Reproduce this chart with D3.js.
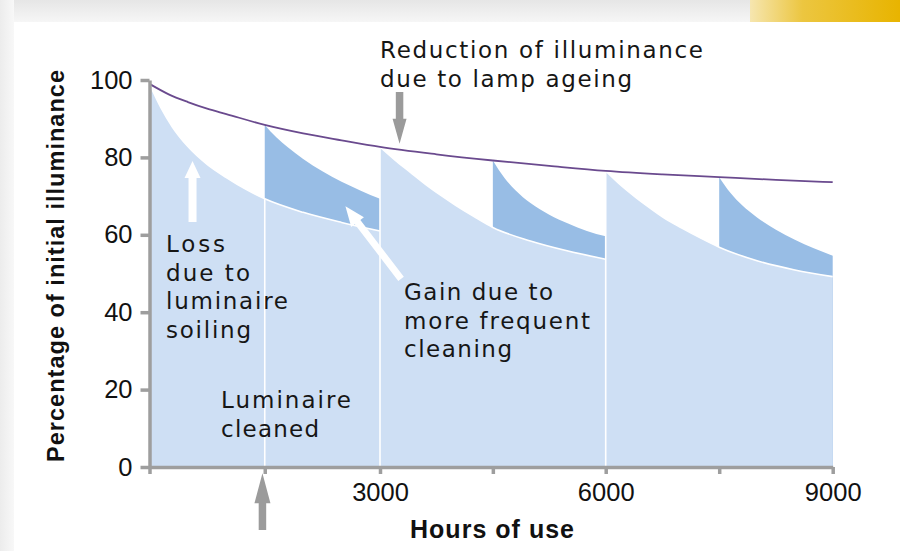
<!DOCTYPE html>
<html>
<head>
<meta charset="utf-8">
<script src="https://cdn.jsdelivr.net/npm/d3@7"></script>
<style>
  body { margin: 0; background: #fff; }
  svg { display: block; font-family: "Liberation Sans", Arial, sans-serif; }
</style>
</head>
<body>
<svg width="900" height="551"></svg>
<script>
// lamp ageing curve (top, purple)
var lampHours  = [0, 250, 500, 750, 1000, 1500, 2000, 2500, 3000, 3750, 4500, 5250, 6000, 6750, 7500, 8250, 9000];
var lampValues = [99, 96.3, 94.3, 92.6, 91.2, 88.4, 86.2, 84.4, 82.7, 80.8, 79.2, 77.8, 76.5, 75.6, 74.9, 74.2, 73.6];

// luminaire cleaned every 3000 h (light blue)
var cycle1Hours  = [0, 150, 300, 500, 750, 1000, 1250, 1500, 2000, 2500, 3000];
var cycle1Values = [99, 92.8, 87.8, 82.8, 78.2, 74.8, 71.8, 69.3, 65.8, 63.2, 61];
var cycle2Hours  = [3000, 3200, 3400, 3600, 3800, 4000, 4250, 4500, 5000, 5500, 6000];
var cycle2Values = [82.7, 79.3, 76.2, 73.1, 70.3, 67.7, 64.7, 61.9, 58.4, 55.8, 53.7];
var cycle3Hours  = [6000, 6200, 6400, 6600, 6800, 7000, 7250, 7500, 8000, 8500, 9000];
var cycle3Values = [76.5, 72.8, 69.6, 66.7, 64.0, 61.8, 59.2, 56.8, 53.3, 50.9, 49.2];

// extra cleaning halfway (darker blue = gain)
var extra1Hours  = [1500, 1650, 1800, 2000, 2250, 2500, 2750, 3000];
var extra1Values = [88.4, 85.2, 82.6, 79.6, 76.4, 73.7, 71.4, 69.3];
var extra2Hours  = [4500, 4650, 4800, 5000, 5250, 5500, 5750, 6000];
var extra2Values = [79.2, 74.8, 71.5, 68.2, 65.2, 62.9, 61.0, 59.6];
var extra3Hours  = [7500, 7650, 7800, 8000, 8250, 8500, 8750, 9000];
var extra3Values = [74.9, 70.8, 67.7, 64.5, 61.3, 58.7, 56.5, 54.6];

var xTicks = [0, 1500, 3000, 4500, 6000, 7500, 9000];
var xTickLabels = ["", "", "3000", "", "6000", "", "9000"];
var yTicks = [0, 20, 40, 60, 80, 100];
var separatorHours = [1500, 3000, 6000];

var cycles = [[cycle1Hours, cycle1Values], [cycle2Hours, cycle2Values], [cycle3Hours, cycle3Values]];
var extras = [[extra1Hours, extra1Values], [extra2Hours, extra2Values], [extra3Hours, extra3Values]];

var svg = d3.select("svg");

// ---- page frame (screenshot border) ----
var defs = svg.append("defs");
var gTop = defs.append("linearGradient").attr("id", "gTop").attr("x1", 0).attr("y1", 0).attr("x2", 0).attr("y2", 1);
gTop.append("stop").attr("offset", "0%").attr("stop-color", "#e6e6e6");
gTop.append("stop").attr("offset", "100%").attr("stop-color", "#f6f6f6");
var gLeft = defs.append("linearGradient").attr("id", "gLeft").attr("x1", 0).attr("y1", 0).attr("x2", 1).attr("y2", 0);
gLeft.append("stop").attr("offset", "0%").attr("stop-color", "#ececec");
gLeft.append("stop").attr("offset", "100%").attr("stop-color", "#f8f8f8");
var gYel = defs.append("linearGradient").attr("id", "gYel").attr("x1", 0).attr("y1", 0).attr("x2", 1).attr("y2", 0);
gYel.append("stop").attr("offset", "0%").attr("stop-color", "#f6e6b0");
gYel.append("stop").attr("offset", "35%").attr("stop-color", "#ecc640");
gYel.append("stop").attr("offset", "100%").attr("stop-color", "#e8b400");

svg.append("rect").attr("width", 900).attr("height", 551).attr("fill", "#fff");
svg.append("rect").attr("width", 900).attr("height", 22).attr("fill", "url(#gTop)");
svg.append("rect").attr("width", 14).attr("height", 551).attr("fill", "url(#gLeft)");
svg.append("rect").attr("x", 750).attr("width", 150).attr("height", 22).attr("fill", "url(#gYel)");
svg.append("rect").attr("x", 14).attr("y", 22).attr("width", 900).attr("height", 560)
    .attr("rx", 8).attr("fill", "#fff");

// ---- scales ----
var x = d3.scaleLinear().domain([0, 3000, 6000, 9000]).range([149.5, 380, 605.7, 832.7]);
var y = d3.scaleLinear().domain([0, 100]).range([467, 80]);

var area = d3.area()
    .x(function(d) { return x(d[0]); })
    .y0(y(0))
    .y1(function(d) { return y(d[1]); })
    .curve(d3.curveMonotoneX);
var line = d3.line()
    .x(function(d) { return x(d[0]); })
    .y(function(d) { return y(d[1]); })
    .curve(d3.curveMonotoneX);

var gPlot = svg.append("g");

// darker gain regions first, the light regions cover their lower part
gPlot.selectAll("path.extra")
    .data(extras)
  .enter().append("path")
    .attr("class", "extra")
    .attr("d", function(d) { return area(d3.zip(d[0], d[1])); })
    .attr("fill", "#98bde5");

gPlot.selectAll("path.cycle")
    .data(cycles)
  .enter().append("path")
    .attr("class", "cycle")
    .attr("d", function(d) { return area(d3.zip(d[0], d[1])); })
    .attr("fill", "#cedff4");

gPlot.selectAll("path.cycleEdge")
    .data(cycles)
  .enter().append("path")
    .attr("class", "cycleEdge")
    .attr("d", function(d) { return line(d3.zip(d[0], d[1])); })
    .attr("fill", "none")
    .attr("stroke", "#fff")
    .attr("stroke-width", 1.6);

function cleanLevel(h) {
  var best = 0;
  cycles.forEach(function(c) {
    var i = c[0].indexOf(h);
    if (i >= 0 && c[1][i] > best) best = c[1][i];
  });
  return best;
}

gPlot.selectAll("line.sep")
    .data(separatorHours)
  .enter().append("line")
    .attr("class", "sep")
    .attr("x1", function(d) { return x(d); })
    .attr("x2", function(d) { return x(d); })
    .attr("y1", y(0))
    .attr("y2", function(d) { return y(cleanLevel(d)); })
    .attr("stroke", "#fff")
    .attr("stroke-width", 1.6);

// lamp ageing line
gPlot.append("path")
    .attr("d", line(d3.zip(lampHours, lampValues)))
    .attr("fill", "none")
    .attr("stroke", "#6a4a8e")
    .attr("stroke-width", 1.8);

// ---- axes ----
var yAxis = d3.axisLeft(y).tickValues(yTicks).tickSize(9).tickSizeOuter(0).tickPadding(8);
var xAxis = d3.axisBottom(x).tickValues(xTicks).tickSize(7).tickSizeOuter(0).tickPadding(9)
    .tickFormat(function(d, i) { return xTickLabels[i]; });

var gy = svg.append("g").attr("transform", "translate(" + x(0) + ",0)").call(yAxis);
var gx = svg.append("g").attr("transform", "translate(0," + y(0) + ")").call(xAxis);

[gx, gy].forEach(function(g) {
  g.select(".domain").attr("stroke", "#9e9e9e").attr("stroke-width", 3.5);
  g.selectAll(".tick line").attr("stroke", "#9e9e9e").attr("stroke-width", 3.5);
  g.selectAll(".tick text")
    .attr("font-family", "'Liberation Sans', Arial, sans-serif")
    .attr("font-size", 25.5)
    .attr("fill", "#111");
});

svg.append("text")
    .attr("x", 492).attr("y", 538)
    .attr("text-anchor", "middle")
    .attr("font-size", 25).attr("font-weight", "bold")
    .attr("textLength", 164).attr("lengthAdjust", "spacing")
    .attr("fill", "#111")
    .text("Hours of use");

svg.append("text")
    .attr("transform", "translate(64,266) rotate(-90)")
    .attr("text-anchor", "middle")
    .attr("font-size", 23.5).attr("font-weight", "bold")
    .attr("textLength", 392).attr("lengthAdjust", "spacing")
    .attr("fill", "#111")
    .text("Percentage of initial illuminance");

// ---- arrows ----
function arrowPoints(x1, y1, x2, y2, w, hl, hw) {
  var dx = x2 - x1, dy = y2 - y1, L = Math.hypot(dx, dy);
  var ux = dx / L, uy = dy / L, px = -uy, py = ux;
  var bx = x2 - ux * hl, by = y2 - uy * hl;
  return [
    [x1 + px * w / 2, y1 + py * w / 2], [bx + px * w / 2, by + py * w / 2],
    [bx + px * hw / 2, by + py * hw / 2], [x2, y2],
    [bx - px * hw / 2, by - py * hw / 2], [bx - px * w / 2, by - py * w / 2],
    [x1 - px * w / 2, y1 - py * w / 2]
  ];
}
function arrow(h1, v1, h2, v2, w, hl, hw, color) {
  svg.append("polygon")
    .attr("points", arrowPoints(x(h1), y(v1), x(h2), y(v2), w, hl, hw).join(" "))
    .attr("fill", color);
}
arrow(3260, 96.9, 3260, 83.5, 7.5, 25, 14, "#9b9b9b");   // lamp ageing
arrow(1470, -16.3, 1470, -1.6, 7.5, 30, 16, "#9b9b9b");  // luminaire cleaned
arrow(560, 63.3, 560, 79.1, 8, 17, 16, "#fff");          // loss due to soiling
arrow(3280, 48.6, 2550, 67.4, 7, 20, 16, "#fff");        // gain

// ---- annotation text ----
function label(lines, x0, y0, lh, widths) {
  var t = svg.append("text")
    .attr("font-family", "'DejaVu Sans', sans-serif")
    .attr("font-size", 23).attr("fill", "#161616");
  lines.forEach(function(s, i) {
    t.append("tspan")
      .attr("x", x0).attr("y", y0 + i * lh)
      .attr("textLength", widths[i]).attr("lengthAdjust", "spacing")
      .text(s);
  });
}
label(["Reduction of illuminance", "due to lamp ageing"], 380, 58, 28.5, [323, 252]);
label(["Loss", "due to", "luminaire", "soiling"], 166, 252, 28.7, [59, 84, 122, 85]);
label(["Gain due to", "more frequent", "cleaning"], 404, 300, 28.5, [149, 186, 108]);
label(["Luminaire", "cleaned"], 221, 408, 28.7, [130, 98]);
</script>
</body>
</html>
